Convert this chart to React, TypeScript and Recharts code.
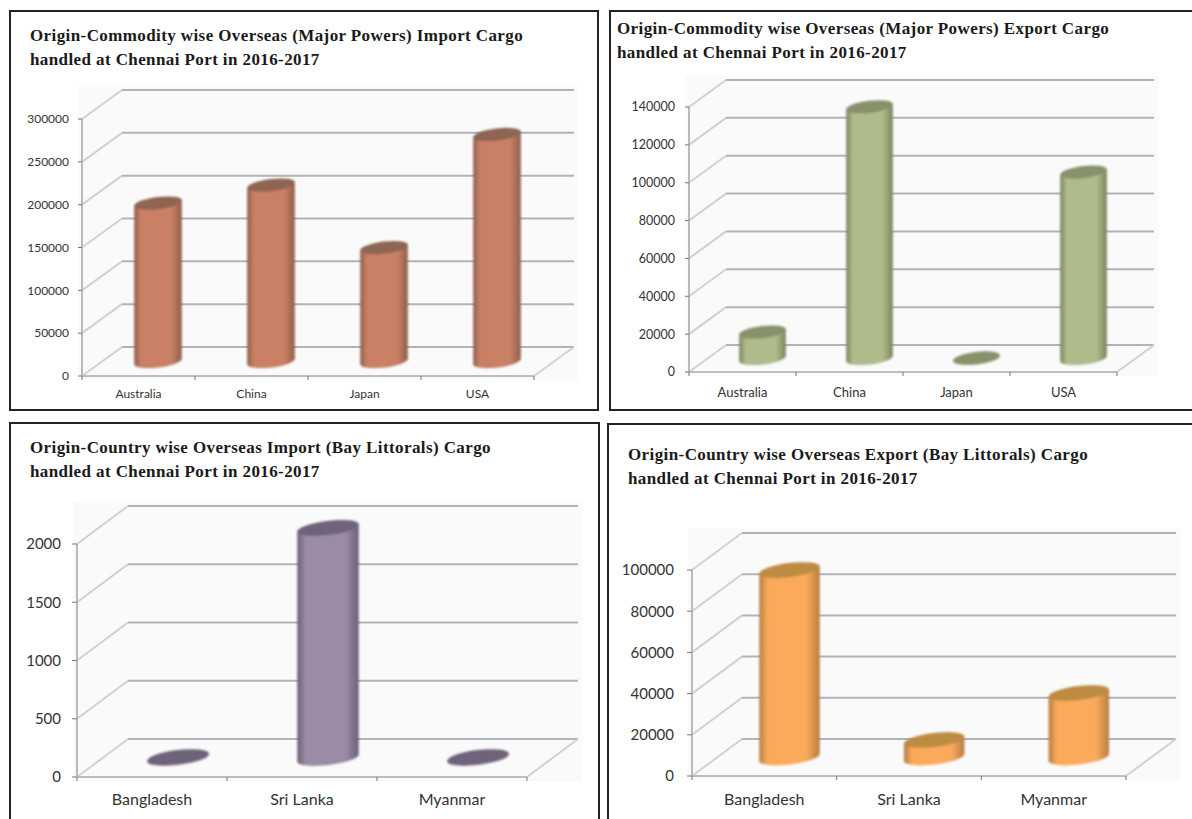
import { Bar, BarChart, CartesianGrid, XAxis, YAxis } from 'recharts'

const powerCategories = ['Australia', 'China', 'Japan', 'USA']
const littoralCategories = ['Bangladesh', 'Sri Lanka', 'Myanmar']

const powerImportValues = [185000, 206000, 133000, 265000]
const powerExportValues = [14000, 133000, 300, 98500]
const littoralImportValues = [8, 1975, 8]
const littoralExportValues = [91000, 8500, 31300]

const powerImportTicks = [0, 50000, 100000, 150000, 200000, 250000, 300000]
const powerExportTicks = [0, 20000, 40000, 60000, 80000, 100000, 120000, 140000]
const littoralImportTicks = [0, 500, 1000, 1500, 2000]
const littoralExportTicks = [0, 20000, 40000, 60000, 80000, 100000]

const panels = [
  {
    id: 'import-powers',
    title: ['Origin-Commodity wise Overseas (Major Powers) Import Cargo', 'handled at Chennai Port in 2016-2017'],
    categories: powerCategories,
    values: powerImportValues,
    ticks: powerImportTicks,
    box: { x: 9, y: 10, w: 590, h: 401 },
    titlePos: { x: 30, y: 24 },
    plot: { left: 82, right: 534, top: 119, bottom: 376 },
    depth: { dx: 40, dy: 29 },
    bar: { width: 48, ry: 6, shift: -1 },
    fontSize: 12,
    yFontSize: 12,
    labelY: 22,
    tickSize: 4,
    tickMargin: 9,
    colors: { body: '#c98065', edge: '#8f5f4d', top: '#8e6453' },
  },
  {
    id: 'export-powers',
    title: ['Origin-Commodity wise Overseas (Major Powers) Export Cargo', 'handled at Chennai Port in 2016-2017'],
    categories: powerCategories,
    values: powerExportValues,
    ticks: powerExportTicks,
    box: { x: 609, y: 10, w: 600, h: 401 },
    titlePos: { x: 617, y: 17 },
    plot: { left: 689, right: 1117, top: 107, bottom: 372 },
    depth: { dx: 37, dy: 27 },
    bar: { width: 47, ry: 6, shift: 1.5 },
    fontSize: 13,
    yFontSize: 12.5,
    labelY: 25,
    tickSize: 4,
    tickMargin: 10,
    colors: { body: '#afbb8a', edge: '#7b855d', top: '#87926b' },
  },
  {
    id: 'import-littorals',
    title: ['Origin-Country wise Overseas Import (Bay Littorals) Cargo', 'handled at Chennai Port in 2016-2017'],
    categories: littoralCategories,
    values: littoralImportValues,
    ticks: littoralImportTicks,
    box: { x: 9, y: 422, w: 591, h: 420 },
    titlePos: { x: 30, y: 436 },
    plot: { left: 77, right: 527, top: 544, bottom: 777 },
    depth: { dx: 51, dy: 38 },
    bar: { width: 62, ry: 7, shift: 0.5 },
    fontSize: 16,
    yFontSize: 15,
    labelY: 28,
    tickSize: 5,
    tickMargin: 11,
    colors: { body: '#9c8ba6', edge: '#6d5f76', top: '#6e6378' },
  },
  {
    id: 'export-littorals',
    title: ['Origin-Country wise Overseas Export (Bay Littorals) Cargo', 'handled at Chennai Port in 2016-2017'],
    categories: littoralCategories,
    values: littoralExportValues,
    ticks: littoralExportTicks,
    box: { x: 607, y: 423, w: 600, h: 420 },
    titlePos: { x: 628, y: 443 },
    plot: { left: 692, right: 1126, top: 570, bottom: 776 },
    depth: { dx: 50, dy: 37 },
    bar: { width: 61, ry: 7, shift: 0 },
    fontSize: 16,
    yFontSize: 15,
    labelY: 29,
    tickSize: 5,
    tickMargin: 13,
    colors: { body: '#fbaa5b', edge: '#b57e42', top: '#bd8c42' },
  },
]

type Panel = (typeof panels)[number]

const TILT = (-7 * Math.PI) / 180

// cylinder standing on the chart floor, pushed back by half of the 3d depth
const Cylinder = ({ x, y, width, height, panel }: any) => {
  const { dx, dy } = panel.depth
  const ry = panel.bar.ry
  const rx = width / 2
  const cx = x + rx + dx / 2 + panel.bar.shift
  const yTop = y - dy / 2
  const yBase = y + height - dy / 2
  const ox = rx * Math.cos(TILT)
  const oy = rx * Math.sin(TILT)
  const deg = (TILT * 180) / Math.PI
  const body = [
    `M${cx - ox},${yTop - oy}`,
    `L${cx - ox},${yBase - oy}`,
    `A${rx},${ry} ${deg} 0 0 ${cx + ox},${yBase + oy}`,
    `L${cx + ox},${yTop + oy}`,
    'Z',
  ].join(' ')
  return (
    <g style={{ filter: 'blur(0.8px)' }}>
      <path d={body} fill={`url(#${panel.id}-body)`} />
      <ellipse
        cx={cx}
        cy={yTop}
        rx={rx}
        ry={ry}
        fill={panel.colors.top}
        transform={`rotate(${deg} ${cx} ${yTop})`}
      />
    </g>
  )
}

const CargoChart = ({ panel }: { panel: Panel }) => {
  const { box, plot, depth } = panel
  const chartW = box.w - 4
  const chartH = box.h - 4
  const offsetX = box.x + 2
  const offsetY = box.y + 2
  const plotW = plot.right - plot.left
  const band = plotW / panel.categories.length
  const rows = panel.categories.map((name, i) => ({ name, value: panel.values[i] }))
  const max = panel.ticks[panel.ticks.length - 1]
  const backTop = plot.top - depth.dy

  const gridLine = ({ x1, x2, y1, index }: any) => {
    const isFloor = Math.abs(y1 - plot.bottom + offsetY) < 1
    return (
      <g key={`grid-${index}`} style={{ filter: 'blur(0.5px)' }}>
        <line x1={x1} y1={y1} x2={x1 + depth.dx} y2={y1 - depth.dy} stroke="#cfd1d3" strokeWidth={2} />
        <line
          x1={x1 + depth.dx}
          y1={y1 - depth.dy}
          x2={x2 + depth.dx}
          y2={y1 - depth.dy}
          stroke="#b0b3b8"
          strokeWidth={2}
        />
        {isFloor && <line x1={x2} y1={y1} x2={x2 + depth.dx} y2={y1 - depth.dy} stroke="#cfd1d3" strokeWidth={2} />}
      </g>
    )
  }

  const categoryTick = ({ x, y, payload, index }: any) => (
    <g>
      <line x1={x - band / 2} y1={y - 8} x2={x - band / 2} y2={y - 4} stroke="#777" />
      {index === panel.categories.length - 1 && (
        <line x1={x + band / 2} y1={y - 8} x2={x + band / 2} y2={y - 4} stroke="#777" />
      )}
      <text x={x} y={y + panel.labelY - 8} textAnchor="middle" fontSize={panel.fontSize} fill="#333" fontFamily="Lato">
        {payload.value}
      </text>
    </g>
  )

  return (
    <>
      <div
        style={{
          position: 'absolute',
          left: plot.left - 4,
          top: backTop - 4,
          width: plotW + depth.dx + 8,
          height: plot.bottom - backTop + 8,
          background: '#fafafa',
        }}
      />
      <div style={{ position: 'absolute', left: offsetX, top: offsetY }}>
        <BarChart
          width={chartW}
          height={chartH}
          data={rows}
          margin={{ top: plot.top - offsetY, right: offsetX + chartW - plot.right, bottom: 0, left: 0 }}
          barSize={panel.bar.width}
        >
          <defs>
            <linearGradient id={`${panel.id}-body`} x1="0" y1="0" x2="1" y2="0">
              <stop offset="0" stopColor={panel.colors.edge} />
              <stop offset="0.14" stopColor={panel.colors.body} />
              <stop offset="0.78" stopColor={panel.colors.body} />
              <stop offset="1" stopColor={panel.colors.edge} />
            </linearGradient>
          </defs>
          <CartesianGrid vertical={false} horizontal={gridLine} />
          <XAxis
            dataKey="name"
            height={offsetY + chartH - plot.bottom}
            axisLine={{ stroke: '#bbbdc0', strokeWidth: 2 }}
            tickLine={false}
            interval={0}
            tick={categoryTick}
          />
          <YAxis
            domain={[0, max]}
            ticks={panel.ticks}
            interval={0}
            width={plot.left - offsetX}
            axisLine={{ stroke: '#b8babd', strokeWidth: 2 }}
            tickLine={{ stroke: '#777' }}
            tickSize={panel.tickSize}
            tickMargin={panel.tickMargin}
            tick={{ fontSize: panel.yFontSize, fill: '#333', fontFamily: 'Lato' }}
          />
          <Bar
            dataKey="value"
            isAnimationActive={false}
            shape={(props: any) => <Cylinder {...props} panel={panel} />}
          />
        </BarChart>
      </div>
      <div
        style={{
          position: 'absolute',
          left: panel.titlePos.x,
          top: panel.titlePos.y,
          fontFamily: '"Liberation Serif", serif',
          fontWeight: 700,
          fontSize: 17,
          letterSpacing: 0.4,
          lineHeight: '23.5px',
          color: '#1a1a1a',
          whiteSpace: 'nowrap',
        }}
      >
        {panel.title.map((line) => (
          <div key={line}>{line}</div>
        ))}
      </div>
      <div
        style={{
          position: 'absolute',
          left: box.x,
          top: box.y,
          width: box.w - 4,
          height: box.h - 4,
          border: '2px solid #222',
          pointerEvents: 'none',
        }}
      />
    </>
  )
}

export default function App() {
  return (
    <div
      style={{
        position: 'absolute',
        left: 0,
        top: 0,
        width: 1192,
        height: 819,
        overflow: 'hidden',
        background: '#fff',
      }}
    >
      {panels.map((panel) => (
        <CargoChart key={panel.id} panel={panel} />
      ))}
    </div>
  )
}
